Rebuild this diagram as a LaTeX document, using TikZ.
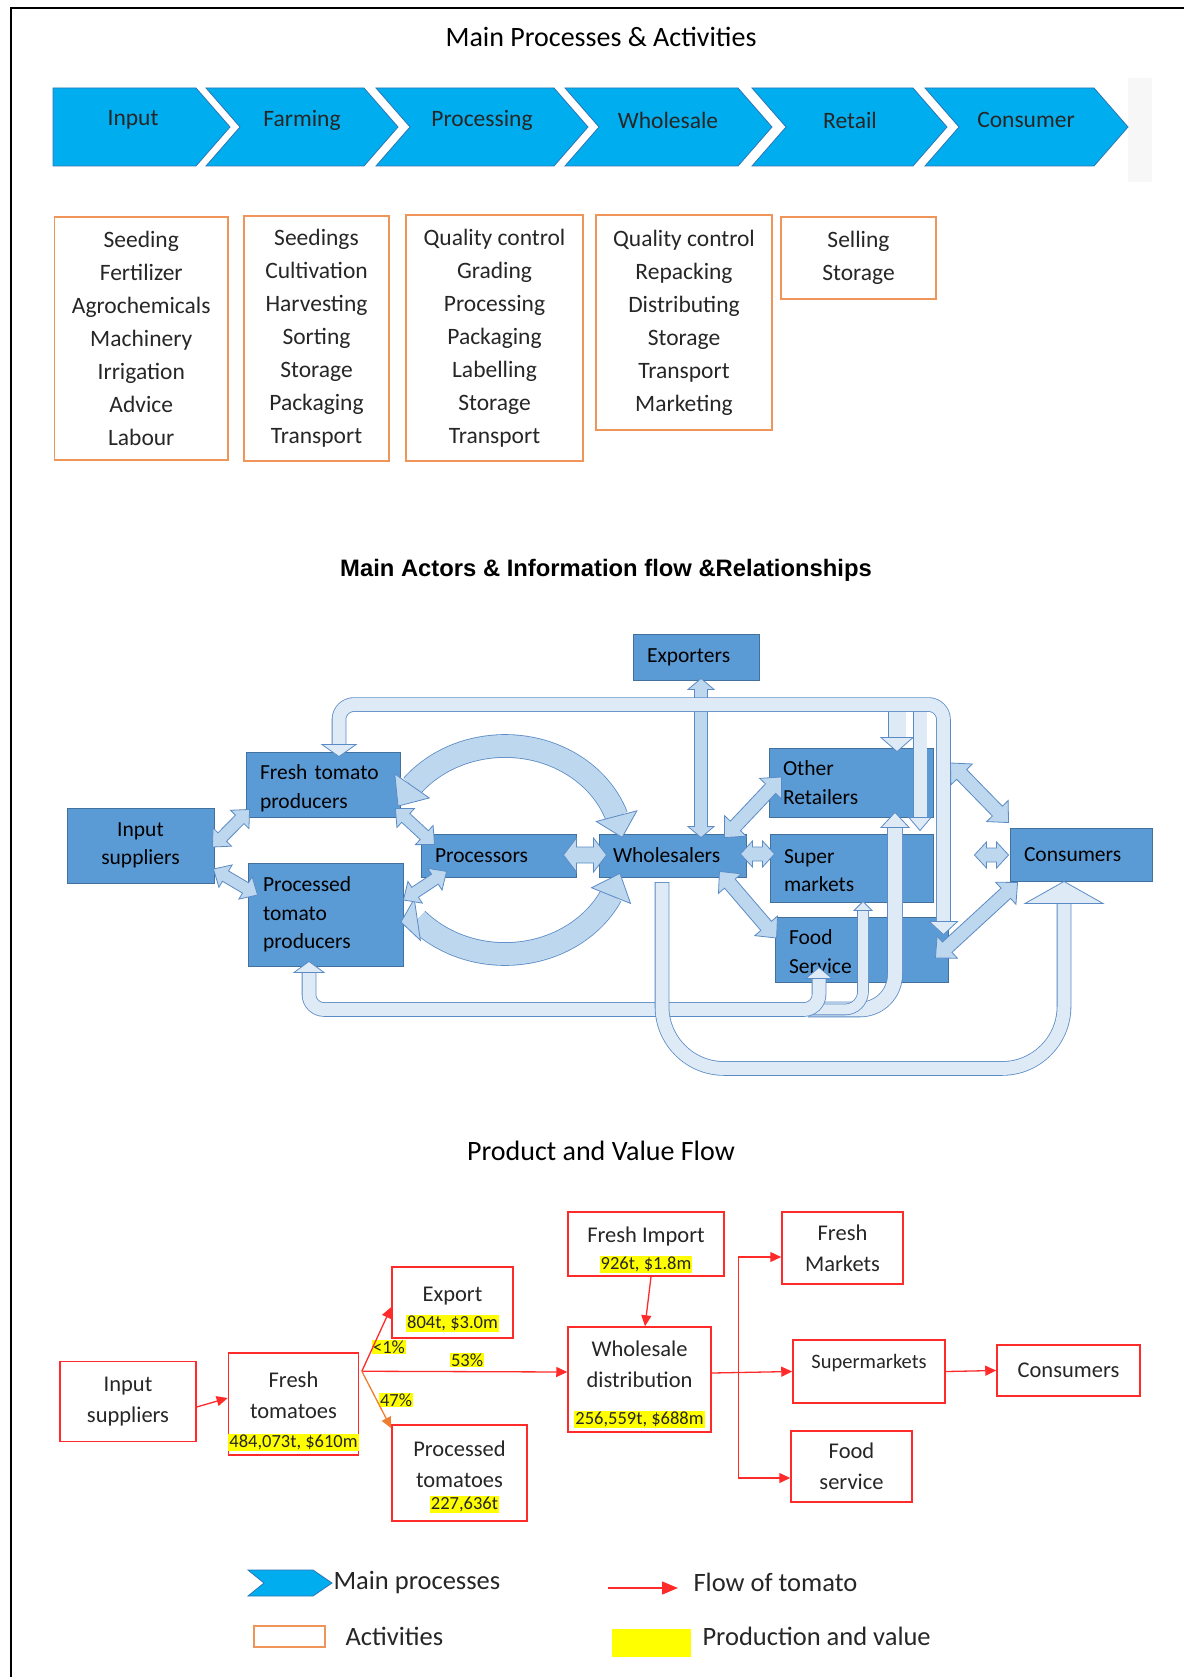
\documentclass[tikz,border=0pt]{standalone}
\usepackage{fontspec}
\setmainfont{Carlito}
\newfontfamily\headfont{Liberation Sans}
\usetikzlibrary{arrows.meta,calc}
\definecolor{chevfill}{HTML}{00AEEF}
\definecolor{chevedge}{HTML}{2E75B6}
\definecolor{actorange}{HTML}{F0955A}
\definecolor{actfill}{HTML}{5B9BD5}
\definecolor{actedge}{HTML}{41719C}
\definecolor{arrfill}{HTML}{BDD7EE}
\definecolor{bandfill}{HTML}{DEEBF7}
\definecolor{arredge}{HTML}{5B8BC5}
\definecolor{flowred}{HTML}{FF2B2B}
\definecolor{floworange}{HTML}{ED7D31}
\definecolor{hlyellow}{HTML}{FFFF00}
\definecolor{ink}{HTML}{262626}
\tikzset{
  chev/.style={draw=chevedge, fill=chevfill, line width=0.8pt},
  chevtxt/.style={font=\fontsize{23.5}{28}\selectfont, text=ink},
  actbox/.style={rectangle, draw=actorange, line width=1.2pt, align=center, inner sep=0pt,
                 font=\fontsize{23.5}{33}\selectfont, text=ink},
  actor/.style={rectangle, draw=actedge, fill=actfill, line width=0.9pt, inner xsep=14pt,
                inner ysep=0pt, align=left, font=\fontsize{21.5}{28.5}\selectfont, text=black},
  blk/.style={draw=arredge, fill=arrfill, line width=0.8pt},
  bandhd/.style={draw=arredge, fill=bandfill, line width=0.8pt},
  band/.style={draw=arredge, line width=0.8pt, double=bandfill, double distance=13pt},
  arcband/.style={draw=arredge, line width=0.8pt, double=arrfill, double distance=22pt},
  rbox/.style={rectangle, draw=flowred, line width=1.5pt, align=center, inner sep=0pt,
               font=\fontsize{22.5}{31}\selectfont, text=ink},
  pct/.style={fill=hlyellow, inner sep=1pt, font=\fontsize{18.5}{22}\selectfont, text=ink},
  flow/.style={-{Triangle[length=11pt,width=10pt]}, draw=flowred, line width=1.3pt},
  legtxt/.style={anchor=west, font=\fontsize{26.5}{30}\selectfont, text=ink},
  ttl/.style={font=\fontsize{28}{34}\selectfont, text=black}
}
\newcommand{\val}[1]{{\fontsize{18.5}{22}\selectfont\setlength{\fboxsep}{1pt}\colorbox{hlyellow}{#1}}}
\newcommand{\lift}[1]{\rule{0pt}{#1}}
% block arrow, heads at both ends: ends, shaft half width, head half width, head length
\newcommand{\twohead}[5]{\draw[blk] (#1) -- ($(#1)!#5!(#2)!#4!-90:(#2)$) -- ($(#1)!#5!(#2)!#3!-90:(#2)$)
  -- ($(#2)!#5!(#1)!#3!90:(#1)$) -- ($(#2)!#5!(#1)!#4!90:(#1)$) -- (#2)
  -- ($(#2)!#5!(#1)!#4!-90:(#1)$) -- ($(#2)!#5!(#1)!#3!-90:(#1)$)
  -- ($(#1)!#5!(#2)!#3!90:(#2)$) -- ($(#1)!#5!(#2)!#4!90:(#2)$) -- cycle;}
% triangular head: tip, base, half width
\newcommand{\headtri}[4][blk]{\draw[#1] (#2) -- ($(#3)!#4!90:(#2)$) -- ($(#3)!#4!-90:(#2)$) -- cycle;}

\begin{document}
\begin{tikzpicture}[x=1pt, y=-1pt]
  \useasboundingbox (0,0) rectangle (1184,1677);
  \draw[line width=2pt] (11,1677) -- (11,8) -- (1184,8);

  % --- main processes & activities
  \node[ttl] (t1) at (601,37) {Main Processes \& Activities};
  \fill[black!3] (1128,78) rectangle (1152,182);
  \foreach \xl/\xn/\xr/\lab/\tx [count=\i] in {53/53/196/Input/133, 206/240/364/Farming/302,
      376/410/554/Processing/482, 565/599/738/Wholesale/668, 752/786/913/Retail/850,
      925/959/1094/Consumer/1026} {
    \draw[chev] (\xl,88) -- (\xr,88) -- (\xr+34,127) -- (\xr,166) -- (\xl,166) -- (\xn,127) -- cycle;
    \node[chevtxt] (proc\i) at (\tx,120) {\lab};
  }
  \node[actbox, minimum width=173.5pt, minimum height=243pt] (act1) at (141.25,338.5)
    {Seeding\\Fertilizer\\Agrochemicals\\Machinery\\Irrigation\\Advice\\Labour};
  \node[actbox, minimum width=145pt, minimum height=245pt] (act2) at (316.5,338.5)
    {Seedings\\Cultivation\\Harvesting\\Sorting\\Storage\\Packaging\\Transport};
  \node[actbox, minimum width=177pt, minimum height=246pt] (act3) at (494.5,338)
    {Quality control\\Grading\\Processing\\Packaging\\Labelling\\Storage\\Transport};
  \node[actbox, minimum width=176pt, minimum height=215pt] (act4) at (684,322.5)
    {Quality control\\Repacking\\Distributing\\Storage\\Transport\\Marketing};
  \node[actbox, minimum width=155pt, minimum height=82pt] (act5) at (858.5,258) {Selling\\Storage};

  % --- main actors
  \node[font=\headfont\bfseries\fontsize{23.8}{28}\selectfont] (t2) at (606,570)
    {Main Actors \& Information flow \&Relationships};
  \node[actor, minimum width=126pt, minimum height=46pt, text width=98pt] (exp) at (696,657) {Exporters};
  \node[actor, minimum width=154pt, minimum height=65pt, text width=126pt] (ftp) at (323,784.5) {\lift{22pt}Fresh tomato\\producers};
  \node[actor, align=center, minimum width=147pt, minimum height=75pt, text width=119pt] (isp) at (140.5,845.5) {Input\\suppliers};
  \node[actor, minimum width=155pt, minimum height=103pt, text width=125pt, inner xsep=15pt] (ptp) at (325.5,914.5) {Processed\\tomato\\producers};
  \node[actor, minimum width=155pt, minimum height=43pt, text width=127pt] (prs) at (498.5,855.5) {Processors};
  \node[actor, minimum width=147pt, minimum height=43pt, text width=119pt] (whl) at (672.5,855.5) {Wholesalers};
  \node[actor, minimum width=164pt, minimum height=69pt, text width=136pt] (oret) at (851,782.5) {Other\\Retailers};
  \node[actor, minimum width=163pt, minimum height=68pt, text width=135pt] (smk) at (851.5,868) {\lift{19pt}Super\\markets};
  \node[actor, minimum width=173pt, minimum height=65pt, text width=145pt] (fsv) at (861.5,949.5) {\lift{19pt}Food\\Service};
  \node[actor, minimum width=142pt, minimum height=53pt, text width=114pt] (cns) at (1081,854.5) {Consumers};

  % arcs round the processors
  \coordinate (arcC) at ($(prs.center)+(6.5,-5.5)$);
  \foreach \nm/\ang in {u1/-142,u2/-155,u3/-19,u4/-7,l1/138,l3/26,l4/13}
    \coordinate (\nm) at ($(arcC)+(\ang:118 and 104)$);
  \coordinate (l2) at ($(arcC)+(-104,72)$);
  \draw[arcband] (u1) arc[start angle=-142, end angle=-19, x radius=118, y radius=104];
  \draw[arcband] (l1) arc[start angle=138, end angle=26, x radius=118, y radius=104];
  \headtri{u2}{u1}{21pt} \headtri{u4}{u3}{21pt}
  \headtri{l2}{l1}{21pt} \headtri{l4}{l3}{21pt}

  % straight two-way arrows
  \coordinate (a1s) at ($(isp.east)+(-2,1.5)$);       \coordinate (a1e) at ($(ftp.south west)+(4,-8)$);
  \coordinate (a2s) at ($(isp.east)+(-1,23.5)$);      \coordinate (a2e) at ($(ptp.west)+(10,-19.5)$);
  \coordinate (a3s) at ($(ftp.south east)+(-5,-9)$);  \coordinate (a3e) at ($(prs.north west)+(14,11)$);
  \coordinate (a4s) at ($(ptp.east)+(0,-14.5)$);      \coordinate (a4e) at ($(prs.south west)+(26,-6)$);
  \coordinate (a5s) at ($(prs.east)+(-13,-0.5)$);     \coordinate (a5e) at ($(whl.west)+(8,-0.5)$);
  \coordinate (a6s) at ($(exp.south)+(5,-2)$);        \coordinate (a6e) at ($(whl.north)+(28.5,4)$);
  \coordinate (a7s) at ($(whl.north east)+(-22,4)$);  \coordinate (a7e) at ($(oret.west)+(13,-5.5)$);
  \coordinate (a8s) at ($(whl.east)+(-6,-1.5)$);      \coordinate (a8e) at ($(smk.west)+(5,-14)$);
  \coordinate (a9s) at ($(whl.south east)+(-27,-6)$); \coordinate (a9e) at ($(fsv.west)+(2,-11.5)$);
  \coordinate (a10s) at ($(oret.east)+(17,-19.5)$);   \coordinate (a10e) at ($(cns.north west)+(-1,-5)$);
  \coordinate (a11s) at ($(smk.east)+(41,-13)$);      \coordinate (a11e) at ($(cns.west)+(-1,0.5)$);
  \coordinate (a12s) at ($(cns.south west)+(8,1)$);   \coordinate (a12e) at ($(fsv.east)+(-13,8.5)$);
  \foreach \i in {1,2,3,4} {\twohead{a\i s}{a\i e}{6pt}{13pt}{14pt}}
  \twohead{a5s}{a5e}{8pt}{17pt}{13pt}
  \twohead{a6s}{a6e}{6.5pt}{13pt}{11pt}
  \foreach \i in {7,9,10,12} {\twohead{a\i s}{a\i e}{7pt}{15pt}{16pt}}
  \foreach \i in {8,11} {\twohead{a\i s}{a\i e}{7pt}{13pt}{12pt}}

  % bottom loop
  \coordinate (bb1) at ($(ptp.south)+(-16.5,6)$);   \coordinate (bt1) at ($(ptp.south)+(-16.5,-5)$);
  \coordinate (bb2) at ($(fsv.south)+(-42.5,27)$);
  \coordinate (bb3) at ($(fsv.south)+(-42.5,-4)$);  \coordinate (bt3) at ($(fsv.south)+(-42.5,-15)$);
  \coordinate (bs0) at ($(fsv.south)+(-53.5,27)$);
  \coordinate (bb4) at ($(smk.south)+(11.5,8)$);    \coordinate (bt4) at ($(smk.south)+(11.5,-1)$);
  \coordinate (bb5) at ($(oret.south)+(44,10)$);    \coordinate (bt5) at ($(oret.south)+(44,-5)$);
  \draw[band, double distance=14pt, rounded corners=35pt] (bs0) -| (bb5);
  \draw[band, double distance=10pt, rounded corners=18pt] (bs0) -| (bb4);
  \draw[band, rounded corners=15pt] (bb1) |- (bb2) -- (bb3);
  \headtri[bandhd]{bt1}{bb1}{15pt} \headtri[bandhd]{bt3}{bb3}{13pt}
  \headtri[bandhd]{bt4}{bb4}{9pt}  \headtri[bandhd]{bt5}{bb5}{14pt}

  % top loop
  \coordinate (tb1) at ($(ftp.north)+(16,-7)$);      \coordinate (tt1) at ($(ftp.north)+(16,5)$);
  \coordinate (tb2) at ($(oret.north east)+(10,-43)$);
  \coordinate (tb3) at ($(fsv.north east)+(-5,5)$);  \coordinate (tt3) at ($(fsv.north east)+(-5,18)$);
  \coordinate (ts4) at ($(oret.north)+(46,-42)$);
  \coordinate (tb4) at ($(oret.north)+(46,-10)$);    \coordinate (tt4) at ($(oret.north)+(46,4)$);
  \coordinate (ts5) at ($(smk.north)+(68.5,-128)$);
  \coordinate (tb5) at ($(smk.north)+(68.5,-16)$);   \coordinate (tt5) at ($(smk.north)+(68.5,-3)$);
  \draw[band, double distance=17pt] (ts4) -- (tb4);
  \draw[band] (ts5) -- (tb5);
  \draw[band, rounded corners=15pt] (tb1) |- (tb2) -- (tb3);
  \headtri[bandhd]{tt1}{tb1}{17pt} \headtri[bandhd]{tt3}{tb3}{14pt}
  \headtri[bandhd]{tt4}{tb4}{16pt} \headtri[bandhd]{tt5}{tb5}{11pt}

  % wholesalers to consumers
  \coordinate (ub1) at ($(whl.south)+(-10.5,12)$);
  \coordinate (ub2) at ($(cns.south)+(-17,187)$);
  \coordinate (ub3) at ($(cns.south)+(-17,22)$);     \coordinate (ut3) at ($(cns.south)+(-17,0)$);
  \draw[band, line cap=rect, rounded corners=62pt] (ub1) |- (ub2) -- (ub3);
  \headtri[bandhd]{ut3}{ub3}{39pt}

  % --- product and value flow
  \node[ttl] (t3) at (601,1151) {Product and Value Flow};
  \node[rbox, minimum width=136pt, minimum height=80pt] (ins) at (128,1401.5) {Input\\suppliers};
  \node[rbox, minimum width=130pt, minimum height=102pt] (frt) at (293.5,1404) {\lift{30pt}Fresh\\tomatoes\\[-2pt]\val{484,073t, \$610m}};
  \node[rbox, minimum width=121pt, minimum height=71pt] (exb) at (452.5,1302.5) {\lift{28pt}Export\\[-4pt]\val{804t, \$3.0m}};
  \node[rbox, minimum width=135pt, minimum height=96pt] (pct) at (459.5,1473) {\lift{23.5pt}Processed\\tomatoes\\[-9pt]\hspace*{10pt}\val{227,636t}};
  \node[rbox, minimum width=156pt, minimum height=64pt] (fim) at (646,1244) {\lift{28pt}Fresh Import\\[-4pt]\val{926t, \$1.8m}};
  \node[rbox, minimum width=143pt, minimum height=105pt] (whd) at (639.5,1379.5) {\lift{26pt}Wholesale\\distribution\\[6pt]\val{256,559t, \$688m}};
  \node[rbox, minimum width=121pt, minimum height=72pt] (fmk) at (842.5,1248) {Fresh\\Markets};
  \node[rbox, minimum width=152pt, minimum height=63pt, text depth=21pt, font=\fontsize{20.5}{28}\selectfont] (spm) at (869,1371.5) {Supermarkets};
  \node[rbox, minimum width=121pt, minimum height=71pt] (fds) at (851.5,1466.5) {Food\\service};
  \node[rbox, minimum width=143pt, minimum height=51pt] (cns2) at (1068.5,1370.5) {Consumers};
  \node[pct] (p1) at (389,1347) {<1\%};
  \node[pct] (p2) at (467,1360) {53\%};
  \node[pct] (p3) at (396,1400) {47\%};
  \coordinate (spl) at ($(frt.north east)+(2.5,19)$);
  \coordinate (brn) at ($(whd.east)+(27,-6.5)$);
  \draw[flow] ($(ins.east)+(0,5.5)$) -- ($(frt.west)+(0,-6)$);
  \draw[flow] (spl) -- ($(exb.west)+(0,4.5)$);
  \draw[flow] (spl) -- ($(whd.west)+(0,-7.5)$);
  \draw[flow, draw=floworange] (spl) -- ($(pct.north west)+(0,4)$);
  \draw[flow] ($(fim.south)+(5,0)$) -- ($(whd.north)+(5.5,0)$);
  \draw[flow] ($(whd.east)+(0,-6.5)$) -- (spm.west);
  \draw[flow] (brn) |- ($(fmk.west)+(0,9)$);
  \draw[flow] (brn) |- ($(fds.west)+(0,11.5)$);
  \draw[flow] (spm.east) -- (cns2.west);

  % --- legend
  \draw[chev] (248,1570) -- (313,1570) -- (332,1583) -- (313,1596) -- (248,1596) -- (264,1583) -- cycle;
  \node[legtxt] (lg1) at (330,1582) {Main processes};
  \draw[draw=actorange, line width=1.5pt] (254,1626) rectangle (325,1647);
  \node[legtxt] (lg2) at (342,1636) {Activities};
  \coordinate (lfa) at (608,1588);
  \coordinate (lfb) at (678,1588);
  \draw[flow, -{Triangle[length=16pt,width=13pt]}] (lfa) -- (lfb);
  \node[legtxt] (lg3) at (690,1582) {Flow of tomato};
  \fill[hlyellow] (612,1629) rectangle (691,1657);
  \node[legtxt] (lg4) at (699,1636) {Production and value};
\end{tikzpicture}
\end{document}
